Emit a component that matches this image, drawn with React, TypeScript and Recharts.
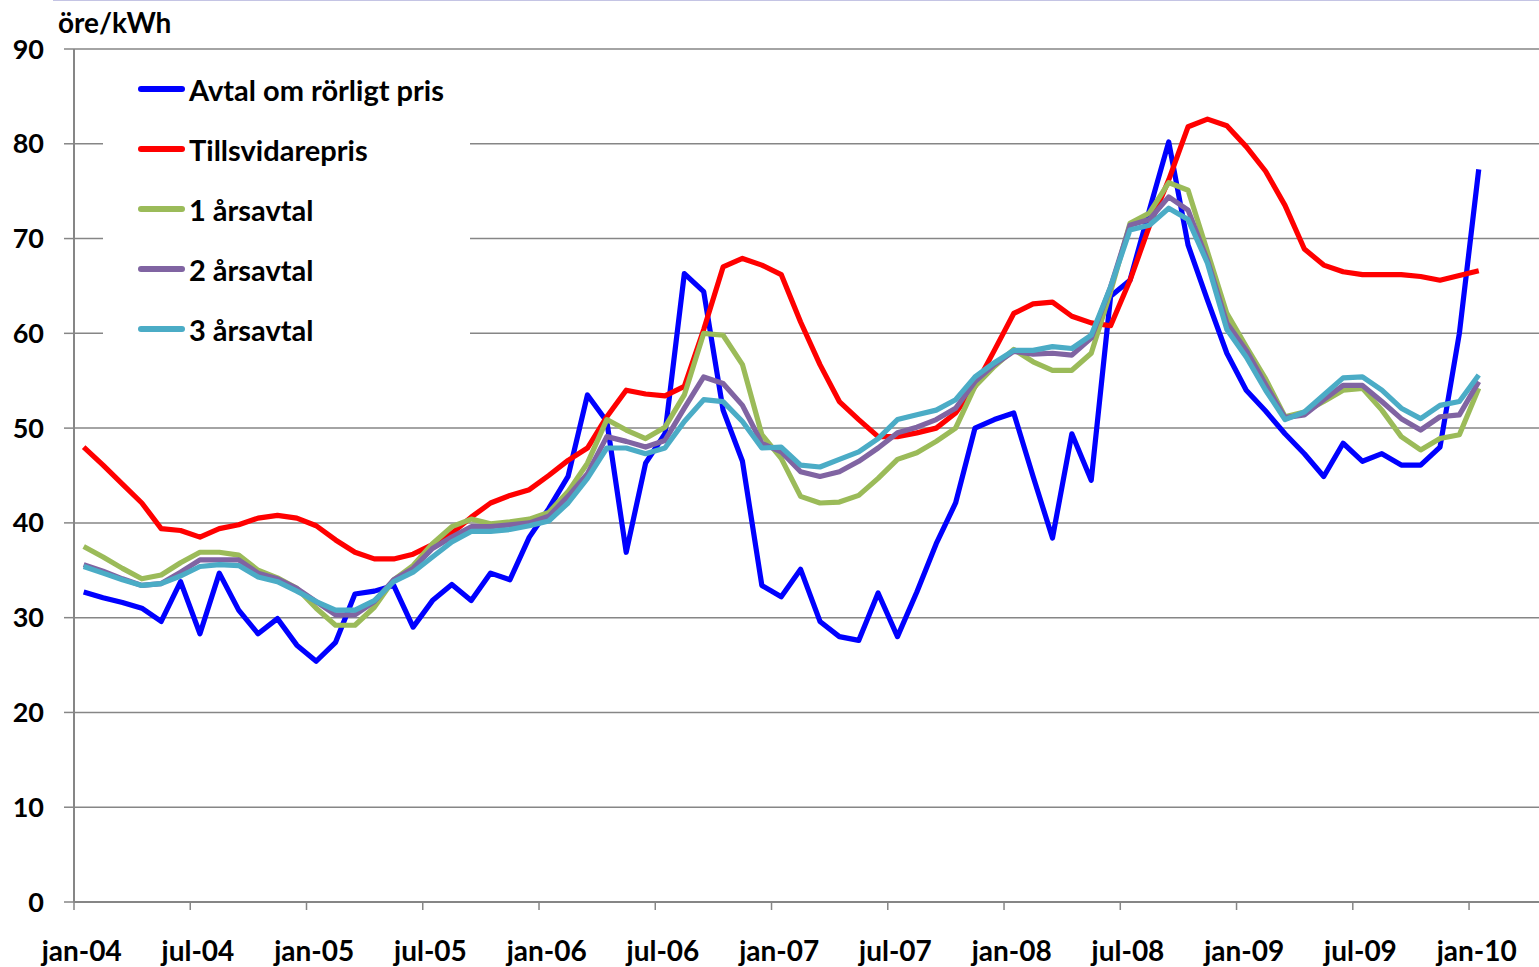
import React from 'react';
import { LineChart, Line, XAxis, YAxis, CartesianGrid, Legend } from 'recharts';

const TICK_LABELS = ['jan-04', 'jul-04', 'jan-05', 'jul-05', 'jan-06', 'jul-06', 'jan-07', 'jul-07', 'jan-08', 'jul-08', 'jan-09', 'jul-09', 'jan-10'];
const X_TICKS = [0, 6, 12, 18, 24, 30, 36, 42, 48, 54, 60, 66, 72];
const Y_TICKS = [0, 10, 20, 30, 40, 50, 60, 70, 80, 90];

// öre/kWh, one value per month jan-04 .. jan-10
const RORLIGT = [
  32.7, 32.1, 31.6, 31.0, 29.6, 33.8, 28.3, 34.7, 30.8, 28.3, 29.9, 27.1,
  25.4, 27.4, 32.5, 32.8, 33.4, 29.0, 31.8, 33.5, 31.8, 34.7, 34.0, 38.5,
  41.5, 44.9, 53.5, 50.7, 36.9, 46.3, 49.4, 66.3, 64.4, 51.9, 46.5, 33.4,
  32.2, 35.1, 29.6, 28.0, 27.6, 32.6, 28.0, 32.7, 37.8, 42.1, 50.0, 50.9,
  51.6, 44.9, 38.4, 49.4, 44.5, 63.9, 65.6, 73.0, 80.2, 69.3, 63.5, 57.9,
  54.0, 51.8, 49.4, 47.3, 44.9, 48.4, 46.5, 47.3, 46.1, 46.1, 48.0, 60.0,
  77.3,
];
const TILLSVIDARE = [
  48.0, 46.1, 44.1, 42.1, 39.4, 39.2, 38.5, 39.4, 39.8, 40.5, 40.8, 40.5,
  39.7, 38.2, 36.9, 36.2, 36.2, 36.7, 37.7, 38.9, 40.6, 42.1, 42.9, 43.5,
  45.0, 46.6, 47.9, 51.2, 54.0, 53.6, 53.4, 54.4, 60.4, 67.0, 67.9, 67.2,
  66.2, 61.2, 56.7, 52.8, 50.9, 49.1, 49.1, 49.5, 50.0, 51.6, 54.4, 58.2,
  62.1, 63.1, 63.3, 61.8, 61.1, 60.8, 65.6, 71.3, 76.2, 81.8, 82.6, 81.9,
  79.7, 77.1, 73.5, 68.9, 67.2, 66.5, 66.2, 66.2, 66.2, 66.0, 65.6, 66.1,
  66.6,
];
const AR1 = [
  37.5, 36.4, 35.2, 34.1, 34.5, 35.8, 36.9, 36.9, 36.6, 35.0, 34.2, 33.1,
  31.0, 29.2, 29.2, 31.1, 34.0, 35.5, 37.8, 39.6, 40.4, 39.9, 40.1, 40.4,
  41.1, 43.3, 46.3, 50.9, 49.8, 48.9, 50.1, 53.5, 60.0, 59.8, 56.7, 49.3,
  46.8, 42.8, 42.1, 42.2, 42.9, 44.7, 46.7, 47.4, 48.6, 50.0, 54.4, 56.5,
  58.3, 57.0, 56.1, 56.1, 57.9, 64.4, 71.6, 72.7, 75.9, 75.1, 68.6, 62.1,
  58.6, 55.2, 51.2, 51.7, 52.8, 54.0, 54.2, 51.9, 49.1, 47.7, 48.9, 49.3,
  54.2,
];
const AR2 = [
  35.6, 34.9, 34.1, 33.4, 33.6, 34.8, 36.1, 36.1, 36.1, 34.7, 34.1, 33.1,
  31.7, 30.3, 30.3, 31.7, 34.0, 35.2, 37.3, 38.5, 39.6, 39.6, 39.8, 40.0,
  40.7, 42.8, 45.2, 49.1, 48.6, 48.0, 48.7, 52.1, 55.4, 54.7, 52.4, 48.4,
  47.5, 45.4, 44.9, 45.4, 46.5, 47.9, 49.5, 50.1, 50.9, 52.1, 54.9, 56.7,
  58.1, 57.8, 57.9, 57.7, 59.5, 64.9, 71.4, 72.0, 74.4, 73.0, 67.7, 61.1,
  58.2, 54.6, 51.1, 51.4, 53.0, 54.5, 54.5, 52.8, 51.0, 49.8, 51.2, 51.4,
  54.9,
];
const AR3 = [
  35.4, 34.7, 34.0, 33.4, 33.6, 34.4, 35.4, 35.6, 35.5, 34.3, 33.8, 32.8,
  31.7, 30.8, 30.8, 31.8, 33.8, 34.8, 36.4, 38.0, 39.1, 39.1, 39.3, 39.7,
  40.2, 42.1, 44.7, 47.9, 47.9, 47.3, 47.9, 50.7, 53.0, 52.8, 50.7, 47.9,
  48.0, 46.1, 45.9, 46.7, 47.5, 48.9, 50.9, 51.4, 51.9, 53.0, 55.4, 56.9,
  58.2, 58.2, 58.6, 58.4, 59.8, 64.9, 70.9, 71.4, 73.2, 72.0, 67.4, 60.4,
  57.5, 54.0, 50.9, 51.7, 53.5, 55.3, 55.4, 54.0, 52.1, 51.0, 52.4, 52.8,
  55.6,
];

const SERIES = [
  { key: 'rorligt', name: 'Avtal om rörligt pris', color: '#0000FF', values: RORLIGT },
  { key: 'tillsvidare', name: 'Tillsvidarepris', color: '#FF0000', values: TILLSVIDARE },
  { key: 'ar1', name: '1 årsavtal', color: '#9BBB59', values: AR1 },
  { key: 'ar2', name: '2 årsavtal', color: '#8064A2', values: AR2 },
  { key: 'ar3', name: '3 årsavtal', color: '#4BACC6', values: AR3 },
];

const data = RORLIGT.map((_, i) => {
  const row: any = { m: i };
  SERIES.forEach(s => { row[s.key] = s.values[i]; });
  return row;
});

const FONT = "Lato, 'Liberation Sans', sans-serif";
const AXIS_GREY = '#868686';
const HALF_MONTH = 9.69; // px, ticks sit between months

const MonthTick = (props: any) => {
  const { x, y, payload } = props;
  const label = TICK_LABELS[X_TICKS.indexOf(payload.value)];
  return (
    <g>
      <line x1={x - HALF_MONTH} x2={x - HALF_MONTH} y1={y} y2={y + 8} stroke={AXIS_GREY} strokeWidth={1.5} />
      <text x={x - 2} y={y + 59} textAnchor="middle" fill="#000" fontSize={28} fontWeight={700} fontFamily={FONT}>
        {label}
      </text>
    </g>
  );
};

const LegendBox = () => (
  <div style={{ background: '#fff', width: 367, height: 300 }}>
    {SERIES.map(s => (
      <div key={s.key} style={{ display: 'flex', alignItems: 'center', height: 60 }}>
        <span style={{ marginLeft: 35, width: 47, height: 6, borderRadius: 3, background: s.color, flexShrink: 0 }} />
        <span style={{ marginLeft: 4, fontFamily: FONT, fontSize: 29, fontWeight: 700, color: '#000', whiteSpace: 'nowrap' }}>
          {s.name}
        </span>
      </div>
    ))}
  </div>
);

export default function App() {
  return (
    <div style={{ position: 'absolute', left: 0, top: 0, width: 1539, height: 967, background: '#fff' }}>
      <div style={{ position: 'absolute', left: 53, top: 0, width: 1486, height: 1, background: '#c4c4e4' }} />
      <LineChart width={1539} height={967} data={data} margin={{ top: 49, right: 0, bottom: 0, left: 0 }}>
        <CartesianGrid vertical={false} stroke={AXIS_GREY} strokeWidth={1.5} />
        <XAxis
          dataKey="m"
          type="number"
          domain={[-0.5, 75.11]}
          allowDataOverflow
          ticks={X_TICKS}
          interval={0}
          height={65}
          tickSize={0}
          tickMargin={0}
          tickLine={false}
          axisLine={{ stroke: AXIS_GREY, strokeWidth: 2 }}
          tick={<MonthTick />}
        />
        <YAxis
          domain={[0, 90]}
          ticks={Y_TICKS}
          interval={0}
          width={74}
          tickSize={10}
          tickMargin={20}
          tickLine={{ stroke: AXIS_GREY, strokeWidth: 1.5 }}
          axisLine={{ stroke: AXIS_GREY, strokeWidth: 2 }}
          tick={{ fill: '#000', fontSize: 27, fontWeight: 700, fontFamily: FONT }}
          label={{
            content: () => (
              <text x={58} y={33} fill="#000" fontSize={28} fontWeight={700} fontFamily={FONT}>öre/kWh</text>
            ),
          }}
        />
        <Legend
          layout="vertical"
          align="center"
          verticalAlign="middle"
          wrapperStyle={{ left: 103, top: 59, width: 367, height: 300 }}
          content={<LegendBox />}
        />
        {SERIES.map(s => (
          <Line
            key={s.key}
            type="linear"
            dataKey={s.key}
            name={s.name}
            stroke={s.color}
            strokeWidth={5.2}
            strokeLinejoin="round"
            dot={false}
            activeDot={false}
            isAnimationActive={false}
          />
        ))}
      </LineChart>
    </div>
  );
}
